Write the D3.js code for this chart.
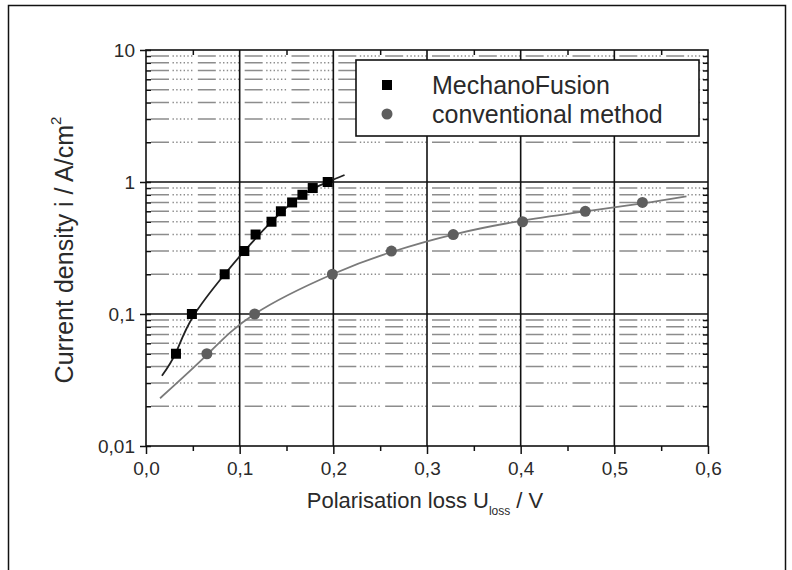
<!DOCTYPE html>
<html>
<head>
<meta charset="utf-8">
<title>Polarisation loss vs current density</title>
<script src="https://d3js.org/d3.v7.min.js"></script>
<style>
  body { margin: 0; background: #fff; }
  svg text { font-family: "Liberation Sans", Arial, sans-serif; fill: #2a2a2a; }
</style>
</head>
<body>
<div id="chart"></div>
<script>
// measured points
const mfU = [0.032, 0.049, 0.084, 0.105, 0.117, 0.134, 0.144, 0.156, 0.167, 0.178, 0.194];
const mfI = [0.05, 0.1, 0.2, 0.3, 0.4, 0.5, 0.6, 0.7, 0.8, 0.9, 1.0];
const convU = [0.065, 0.116, 0.199, 0.262, 0.328, 0.402, 0.469, 0.530];
const convI = [0.05, 0.1, 0.2, 0.3, 0.4, 0.5, 0.6, 0.7];

// fitted curves
const mfFitU = [0.017, 0.032, 0.05, 0.084, 0.105, 0.134, 0.167, 0.194, 0.212];
const mfFitI = [0.034, 0.051, 0.095, 0.2, 0.3, 0.5, 0.8, 1.0, 1.13];
const convFitU = [0.015, 0.065, 0.116, 0.199, 0.262, 0.328, 0.402, 0.469, 0.530, 0.577];
const convFitI = [0.023, 0.049, 0.1, 0.2, 0.295, 0.4, 0.51, 0.6, 0.69, 0.78];

// axis ticks
const xTicks = [0, 0.1, 0.2, 0.3, 0.4, 0.5, 0.6];
const xMinor = [0.05, 0.15, 0.25, 0.35, 0.45, 0.55];
const yTicks = [0.01, 0.1, 1, 10];
const yLabels = ["0,01", "0,1", "1", "10"];
const seriesNames = ["MechanoFusion", "conventional method"];

const W = 792, H = 570;
const x0 = 146, x1 = 708, yTop = 50, yBot = 446;

const svg = d3.select("#chart").append("svg")
  .attr("width", W).attr("height", H);

// outer frame
svg.append("rect")
  .attr("x", 8.5).attr("y", 5.5).attr("width", 777).attr("height", 600)
  .attr("fill", "none").attr("stroke", "#111").attr("stroke-width", 1.5);

const x = d3.scaleLinear().domain([0, 0.6]).range([x0, x1]);
const y = d3.scaleLog().domain([0.01, 10]).range([yBot, yTop]);

// minor values per decade
const yMinor = [];
[0.01, 0.1, 1].forEach(d => { for (let k = 2; k <= 9; k++) yMinor.push(k * d); });

// minor horizontal grid: dash + dots pattern, two periods per cell
const cell = x(0.1) - x(0);
const per = cell / 2;
const dotPart = 6 * 1.4 + 5 * 2.3;
const dash = [18, 3.5, 1.4, 2.3, 1.4, 2.3, 1.4, 2.3, 1.4, 2.3, 1.4, 2.3, 1.4, per - 18 - 3.5 - dotPart];
svg.append("g").selectAll("line")
  .data(yMinor).enter().append("line")
  .attr("x1", x0).attr("x2", x1)
  .attr("y1", d => y(d)).attr("y2", d => y(d))
  .attr("stroke", "#8c8c8c").attr("stroke-width", 1.4)
  .attr("stroke-dasharray", dash.join(" "))
  .attr("stroke-dashoffset", -5);

// major grid
svg.append("g").selectAll("line")
  .data([0.1, 1]).enter().append("line")
  .attr("x1", x0).attr("x2", x1)
  .attr("y1", d => y(d)).attr("y2", d => y(d))
  .attr("stroke", "#111").attr("stroke-width", 1.6);
svg.append("g").selectAll("line")
  .data(xTicks.slice(1, -1)).enter().append("line")
  .attr("x1", d => x(d)).attr("x2", d => x(d))
  .attr("y1", yTop).attr("y2", yBot)
  .attr("stroke", "#111").attr("stroke-width", 1.6);

// axes
const fmtX = d => d3.format(".1f")(d).replace(".", ",");
const gx = svg.append("g").attr("transform", `translate(0,${yBot})`)
  .call(d3.axisBottom(x).tickValues(xTicks).tickFormat(fmtX).tickSize(8).tickPadding(8));
svg.append("g").attr("transform", `translate(0,${yBot})`)
  .call(d3.axisBottom(x).tickValues(xMinor).tickFormat("").tickSize(5));
svg.append("g").attr("transform", `translate(0,${yTop})`)
  .call(d3.axisBottom(x).tickValues(xMinor).tickFormat("").tickSize(5));

const gy = svg.append("g").attr("transform", `translate(${x0},0)`)
  .call(d3.axisLeft(y).tickValues(yTicks).tickFormat((d, i) => yLabels[i]).tickSize(6).tickPadding(5));
svg.append("g").attr("transform", `translate(${x0},0)`)
  .call(d3.axisRight(y).tickValues(yMinor.concat(yTicks)).tickFormat("").tickSize(5));
svg.append("g").attr("transform", `translate(${x1},0)`)
  .call(d3.axisLeft(y).tickValues(yMinor).tickFormat("").tickSize(5));

svg.selectAll(".domain").remove();
svg.selectAll(".tick line").attr("stroke", "#111").attr("stroke-width", 1.5);
gx.selectAll("text").attr("font-size", 19).attr("fill", "#333");
gy.selectAll("text").attr("font-size", 19).attr("fill", "#333");

// frame of plot
svg.append("rect")
  .attr("x", x0).attr("y", yTop).attr("width", x1 - x0).attr("height", yBot - yTop)
  .attr("fill", "none").attr("stroke", "#111").attr("stroke-width", 1.6);

// fit curves
const line = d3.line().x(d => x(d[0])).y(d => y(d[1])).curve(d3.curveNatural);
svg.append("path")
  .datum(convFitU.map((u, i) => [u, convFitI[i]]))
  .attr("d", line).attr("fill", "none")
  .attr("stroke", "#7a7a7a").attr("stroke-width", 1.8);
svg.append("path")
  .datum(mfFitU.map((u, i) => [u, mfFitI[i]]))
  .attr("d", line).attr("fill", "none")
  .attr("stroke", "#222").attr("stroke-width", 1.8);

// markers
svg.append("g").selectAll("circle")
  .data(convU.map((u, i) => [u, convI[i]])).enter().append("circle")
  .attr("cx", d => x(d[0])).attr("cy", d => y(d[1])).attr("r", 5.5)
  .attr("fill", "#5e5e5e");
svg.append("g").selectAll("rect")
  .data(mfU.map((u, i) => [u, mfI[i]])).enter().append("rect")
  .attr("x", d => x(d[0]) - 5).attr("y", d => y(d[1]) - 5)
  .attr("width", 10).attr("height", 10)
  .attr("fill", "#000");

// legend
const lg = svg.append("g");
lg.append("rect")
  .attr("x", 356).attr("y", 60).attr("width", 343).attr("height", 76)
  .attr("fill", "#fff").attr("stroke", "#111").attr("stroke-width", 1.6);
lg.append("rect").attr("x", 382).attr("y", 80).attr("width", 10).attr("height", 10).attr("fill", "#000");
lg.append("circle").attr("cx", 387).attr("cy", 114).attr("r", 5.5).attr("fill", "#5e5e5e");
lg.selectAll("text.lab").data(seriesNames).enter().append("text")
  .attr("class", "lab")
  .attr("x", 432).attr("y", (d, i) => 94 + i * 29)
  .attr("font-size", 25)
  .text(d => d);

// axis titles
const yt = svg.append("text")
  .attr("transform", "translate(73,250) rotate(-90)")
  .attr("text-anchor", "middle").attr("font-size", 25);
yt.append("tspan").text("Current density i / A/cm");
yt.append("tspan").attr("font-size", 15).attr("dy", -12).text("2");

const xt = svg.append("text")
  .attr("x", 425).attr("y", 508)
  .attr("text-anchor", "middle").attr("font-size", 22);
xt.append("tspan").text("Polarisation loss U");
xt.append("tspan").attr("font-size", 12).attr("dy", 7).text("loss");
xt.append("tspan").attr("dy", -7).text(" / V");
</script>
</body>
</html>
